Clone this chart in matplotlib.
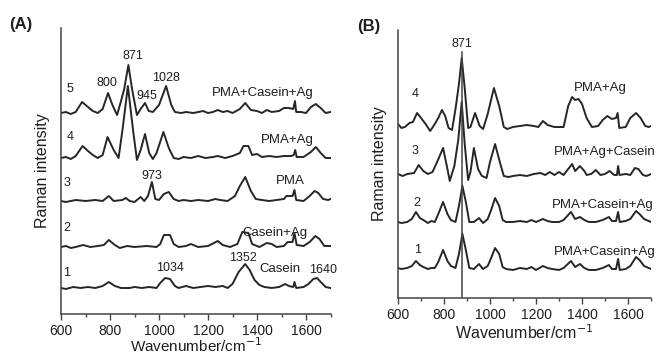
import matplotlib
matplotlib.use("Agg")
import matplotlib.pyplot as plt
from matplotlib.ticker import MultipleLocator

plt.rcParams['font.family'] = ['Liberation Sans', 'DejaVu Sans']

# ---- panel A spectra: wavenumber / relative intensity (baseline = 0) ----
a5_x = [600, 620, 640, 660, 686, 705, 730, 750, 770, 792, 810, 829, 845, 858, 875, 890, 910, 925, 943, 958, 975,
        1000, 1029, 1050, 1065, 1090, 1110, 1140, 1160, 1180, 1200, 1220, 1240, 1260, 1280, 1300, 1330, 1352, 1375,
        1400, 1420, 1440, 1460, 1490, 1510, 1530, 1548, 1555, 1560, 1580, 1600, 1620, 1640, 1660, 1680, 1700]
a5_y = [0, 1, -1, 1, 11, 7, 2, 0, 4, 20, 8, -2, 12, 24, 48, 24, -2, 4, 10, 2, 1,
        8, 27, 8, 1, 0, 1, 0, 1, 2, 0, 1, 3, 1, 2, 0, 4, 10, 3,
        2, 0, 3, 1, 2, 5, 5, 4, 12, 1, 1, 0, 6, 9, 5, 0, 1]

a4_x = [600, 620, 640, 660, 688, 710, 730, 750, 770, 790, 815, 835, 852, 873, 895, 910, 925, 943, 960, 975,
        990, 1018, 1040, 1060, 1080, 1100, 1130, 1160, 1190, 1220, 1240, 1270, 1300, 1330, 1345, 1365, 1380,
        1400, 1420, 1450, 1480, 1510, 1540, 1550, 1556, 1562, 1590, 1620, 1640, 1660, 1680, 1700]
a4_y = [0, 1, -1, 2, 12, 7, 3, 0, 3, 21, 8, 0, 30, 72, 26, -2, 8, 24, 5, -1,
        5, 26, 10, 0, -1, 1, 0, 2, 0, 1, 2, 0, 2, 5, 12, 12, 3,
        4, 1, 2, 1, 2, 2, 3, 8, 1, 1, 6, 11, 5, 0, 0]

a3_x = [600, 620, 640, 660, 700, 740, 770, 795, 815, 850, 865, 880, 900, 925, 940, 955, 971, 985, 1000, 1020,
        1040, 1060, 1080, 1100, 1130, 1160, 1200, 1230, 1250, 1280, 1310, 1330, 1352, 1375, 1395, 1420, 1450,
        1480, 1510, 1520, 1545, 1553, 1560, 1590, 1615, 1635, 1650, 1670, 1690, 1700]
a3_y = [0, -1, 0, 1, 0, 1, 0, 5, 0, 1, 3, 0, -1, 4, 0, 5, 19, 2, 1, 7,
        9, 2, 0, 1, 0, 1, 0, 2, 1, 0, 5, 15, 24, 10, 2, 1, 0,
        1, 2, 5, 5, 11, 1, 0, 5, 10, 8, 2, 1, 2]

a2_x = [600, 620, 640, 660, 690, 720, 750, 775, 795, 820, 840, 870, 900, 950, 990, 1005, 1020, 1045, 1060,
        1080, 1110, 1130, 1160, 1200, 1240, 1260, 1290, 1320, 1340, 1365, 1380, 1410, 1440, 1460, 1480, 1510,
        1525, 1545, 1553, 1562, 1590, 1615, 1638, 1655, 1675, 1700]
a2_y = [0, 1, -1, 0, 2, 0, 1, 2, 7, 2, -1, 1, 0, 1, 0, 3, 12, 12, 3,
        0, 1, 3, 0, 1, 6, 2, 0, 3, 15, 14, 3, 0, 4, 3, 0, 1,
        5, 5, 14, 2, 1, 5, 11, 8, 1, 1]

a1_x = [600, 620, 650, 680, 710, 740, 770, 795, 820, 845, 880, 900, 930, 960, 990, 1005, 1025, 1045, 1065,
        1080, 1110, 1140, 1170, 1200, 1230, 1260, 1280, 1300, 1325, 1352, 1370, 1390, 1410, 1430, 1460, 1490,
        1515, 1530, 1548, 1553, 1560, 1590, 1610, 1630, 1645, 1660, 1680, 1700]
a1_y = [0, -1, 1, 0, 1, 0, 2, 6, 2, 0, 0, 1, 0, 1, 0, 5, 10, 9, 2,
        0, 2, 0, 1, 2, 1, 2, 0, 4, 16, 24, 18, 8, 3, 1, 0, 1,
        4, 2, 1, 6, 0, 1, 4, 9, 10, 6, 1, 0]

# ---- panel B spectra ----
b4_x = [600, 615, 630, 650, 665, 683, 700, 720, 740, 760, 775, 791, 805, 820, 835, 850, 865, 877, 890, 905,
        915, 935, 955, 970, 990, 1017, 1040, 1060, 1075, 1100, 1130, 1160, 1190, 1210, 1230, 1250, 1280, 1300,
        1320, 1340, 1357, 1370, 1385, 1400, 1420, 1443, 1470, 1490, 1510, 1530, 1548, 1555, 1562, 1590, 1610,
        1635, 1655, 1675, 1690, 1700]
b4_y = [2, -2, -1, 3, 4, 13, 8, 2, -5, 2, 8, 16, 10, -2, -4, 17, 42, 68, 38, -2,
        -1, 13, 0, -3, 12, 38, 20, -1, -3, -1, 0, 1, 0, -1, 5, 1, -1, -1,
        -1, 20, 29, 26, 27, 22, 8, -1, 0, 6, 10, 7, 8, 13, -2, -1, 8,
        13, 8, 0, -1, 0]

b3_x = [600, 620, 640, 670, 690, 710, 730, 750, 770, 796, 815, 825, 845, 862, 877, 890, 905, 915, 930, 948,
        965, 985, 1000, 1022, 1045, 1060, 1080, 1100, 1130, 1160, 1190, 1220, 1240, 1260, 1280, 1300, 1320,
        1340, 1357, 1370, 1391, 1410, 1420, 1440, 1460, 1480, 1500, 1520, 1540, 1552, 1557, 1563, 1590, 1610,
        1630, 1645, 1665, 1680, 1700]
b3_y = [0, -2, 0, 1, 9, 3, 0, 2, 12, 26, 5, -7, 8, 34, 72, 30, -6, 2, 26, 5,
        -2, -4, 12, 30, 10, -2, -3, -2, -1, -2, 0, 1, -1, 2, -1, 2, -1,
        5, 10, 3, 8, 3, -1, 0, 4, -1, 0, 3, -1, -1, 8, -1, 0, -1,
        6, 5, -1, -2, 0]

b2_x = [600, 615, 640, 660, 678, 695, 710, 730, 745, 760, 775, 796, 815, 830, 850, 865, 880, 895, 910, 930,
        952, 970, 990, 1005, 1022, 1040, 1055, 1070, 1100, 1130, 1160, 1180, 1200, 1230, 1250, 1270, 1300,
        1320, 1352, 1370, 1391, 1410, 1430, 1460, 1490, 1517, 1530, 1548, 1557, 1564, 1590, 1610, 1635, 1650,
        1670, 1690, 1700]
b2_y = [0, -1, 0, 3, 10, 4, 2, -1, 1, 0, 8, 20, 8, 2, 0, 16, 36, 20, 0, 0,
        4, -1, 3, 12, 24, 16, 2, 0, 0, 1, 0, 2, 0, 3, 1, 0, 0,
        2, 10, 3, 5, 2, 0, 0, 2, 5, 1, 1, 10, 0, 1, 3, 11, 8,
        3, 1, 0]

b1_x = [600, 615, 640, 660, 678, 695, 710, 730, 745, 760, 775, 796, 815, 830, 850, 865, 880, 895, 910, 930,
        952, 970, 990, 1005, 1022, 1040, 1055, 1070, 1100, 1130, 1160, 1180, 1200, 1230, 1250, 1270, 1300,
        1320, 1352, 1370, 1391, 1410, 1430, 1460, 1490, 1517, 1530, 1548, 1557, 1564, 1590, 1610, 1635, 1650,
        1670, 1690, 1700]
b1_y = [0, -1, 0, 2, 7, 3, 1, -1, 0, 0, 6, 18, 7, 2, 0, 14, 34, 18, 0, -1,
        4, -1, 2, 10, 20, 14, 1, -1, -2, 0, -1, 1, -2, 2, 0, -1, -2,
        0, 7, 1, 4, 0, -2, -2, 0, 3, -1, -1, 9, -2, -1, 2, 11, 8,
        2, 0, -1]

a_offsets = [201, 156, 113, 67, 26]
b_offsets = [172, 124, 76, 30]
a_spectra = [(a5_x, a5_y), (a4_x, a4_y), (a3_x, a3_y), (a2_x, a2_y), (a1_x, a1_y)]
b_spectra = [(b4_x, b4_y), (b3_x, b3_y), (b2_x, b2_y), (b1_x, b1_y)]

line_c = '#262626'
txt_c = '#1e1e1e'

fig = plt.figure(figsize=(6.57, 3.54), dpi=100)
axA = fig.add_axes([61 / 657, 1 - 314 / 354, 269.5 / 657, 286 / 354])
axB = fig.add_axes([398 / 657, 1 - 298 / 354, 253 / 657, 268 / 354])

for ax, ytop in ((axA, 286), (axB, 268)):
    ax.set_xlim(600, 1700)
    ax.set_ylim(0, ytop)
    ax.set_yticks([])
    ax.xaxis.set_major_locator(MultipleLocator(200))
    ax.xaxis.set_minor_locator(MultipleLocator(100))
    ax.tick_params(axis='x', which='major', direction='out', length=4, width=1, colors='#444', labelsize=10,
                   labelcolor=txt_c, pad=3)
    ax.tick_params(axis='x', which='minor', direction='out', length=2.5, width=1, colors='#444')
    for s in ('top', 'right'):
        ax.spines[s].set_visible(False)
    for s in ('left', 'bottom'):
        ax.spines[s].set_color('#444')
        ax.spines[s].set_linewidth(1.1)
    ax.set_ylabel('Raman intensity', fontsize=11.5, color=txt_c, labelpad=8)
    ax.patch.set_alpha(0)

axA.set_xlabel('Wavenumber/cm$^{-1}$', fontsize=11, color=txt_c, labelpad=-1)
axB.set_xlabel('Wavenumber/cm$^{-1}$', fontsize=11.5, color=txt_c, labelpad=1)

for (x, y), off in zip(a_spectra, a_offsets):
    axA.plot(x, [v + off for v in y], color=line_c, lw=1.4)
for (x, y), off in zip(b_spectra, b_offsets):
    axB.plot(x, [v + off for v in y], color=line_c, lw=1.4)

axB.plot([880, 880], [0, 246], color='#444', lw=1.1)

# annotations panel A
a_labels = [('5', 637, 225), ('4', 637, 177), ('3', 624, 131), ('2', 624, 86), ('1', 624, 41),
            ('871', 894, 258), ('800', 788, 231), ('945', 951, 218), ('1028', 1029, 236),
            ('973', 971, 138), ('1034', 1045, 46), ('1352', 1343, 56), ('1640', 1669, 44)]
for t, x, y in a_labels:
    axA.text(x, y, t, ha='center', va='center', fontsize=9, color=txt_c)
a_names = [('PMA+Casein+Ag', 1424, 221), ('PMA+Ag', 1522, 174), ('PMA', 1535, 133),
           ('Casein+Ag', 1473, 81), ('Casein', 1494, 45)]
for t, x, y in a_names:
    axA.text(x, y, t, ha='center', va='center', fontsize=9.5, color=txt_c)

b_labels = [('871', 878, 254), ('4', 674, 204), ('3', 674, 147), ('2', 683, 95), ('1', 683, 48)]
for t, x, y in b_labels:
    axB.text(x, y, t, ha='center', va='center', fontsize=9, color=txt_c)
b_names = [('PMA+Ag', 1478, 210), ('PMA+Ag+Casein', 1500, 146), ('PMA+Casein+Ag', 1491, 93),
           ('PMA+Casein+Ag', 1500, 46)]
for t, x, y in b_names:
    axB.text(x, y, t, ha='center', va='center', fontsize=9.5, color=txt_c)

fig.text(9 / 657, 1 - 25 / 354, '(A)', fontsize=12, fontweight='bold', va='center', color=txt_c)
fig.text(357 / 657, 1 - 27 / 354, '(B)', fontsize=12, fontweight='bold', va='center', color=txt_c)

fig.savefig('out.png', dpi=100)
